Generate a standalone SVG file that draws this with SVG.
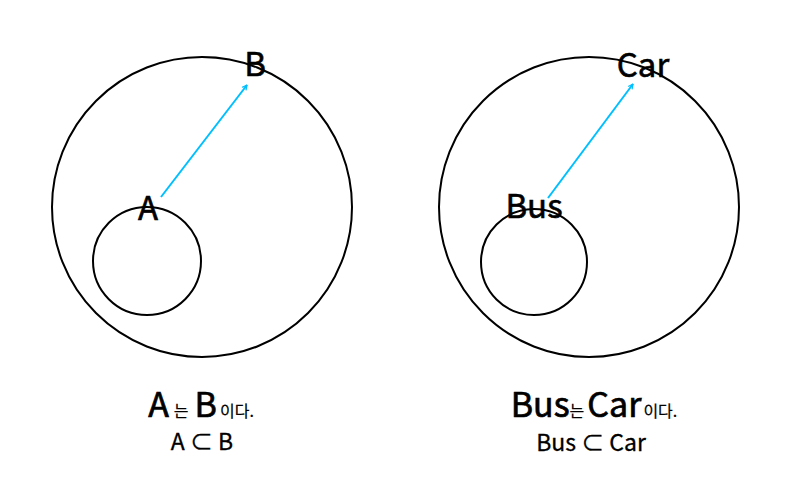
<svg xmlns="http://www.w3.org/2000/svg" width="800" height="500" viewBox="0 0 800 500">
<defs>
<style>
.c{fill:none;stroke:#000;stroke-width:2}
.t{font-family:"Noto Sans CJK KR","Noto Sans",sans-serif;fill:#000;font-weight:normal}
.lab{font-size:33px;text-anchor:middle;stroke:#000;stroke-width:0.6}
.a{stroke:#00BFFF;stroke-width:2;fill:none;marker-end:url(#ah)}
.big{font-size:34px;stroke:#000;stroke-width:0.7}
.sm{font-size:16px;stroke:#000;stroke-width:0.2}
.eq{font-size:23px;text-anchor:middle;stroke:#000;stroke-width:0.3}
</style>
<marker id="ah" viewBox="0 0 10 10" refX="9" refY="5" markerWidth="6" markerHeight="6" orient="auto" markerUnits="userSpaceOnUse">
<path d="M1,1 L9,5 L1,9" fill="none" stroke="#00BFFF" stroke-width="2"/>
</marker>
</defs>
<rect width="800" height="500" fill="#fff"/>
<g id="left">
<g id="B-circle"><circle class="c" cx="202" cy="207" r="150"/></g>
<g id="A-circle"><circle class="c" cx="147" cy="261" r="54"/></g>
<g id="A-label"><text class="t lab" x="148" y="220">A</text></g>
<g id="B-label"><text class="t lab" x="255" y="76">B</text></g>
</g>
<g id="right">
<g id="Car-circle"><circle class="c" cx="589" cy="207" r="150"/></g>
<g id="Bus-circle"><circle class="c" cx="534" cy="262" r="53"/></g>
<g id="Bus-label"><text class="t lab" x="534" y="218">Bus</text></g>
<g id="Car-label"><text class="t lab" x="643" y="77">Car</text></g>
</g>
<g id="connectors">
<line class="a" x1="161" y1="197" x2="247" y2="85"/>
<line class="a" x1="548" y1="198" x2="633" y2="84"/>
</g>
<g id="captions">
<text class="t" x="201" y="417" text-anchor="middle"><tspan class="big">A</tspan><tspan class="sm" dx="5">는</tspan><tspan class="big" dx="6">B</tspan><tspan class="sm" dx="3">이다.</tspan></text>
<text class="t eq" x="202" y="450">A ⊂ B</text>
<text class="t" x="594" y="417" text-anchor="middle"><tspan class="big">Bus</tspan><tspan class="sm">는</tspan><tspan class="big" dx="3">Car</tspan><tspan class="sm" dx="2">이다.</tspan></text>
<text class="t eq" x="591" y="451">Bus ⊂ Car</text>
</g>
</svg>
